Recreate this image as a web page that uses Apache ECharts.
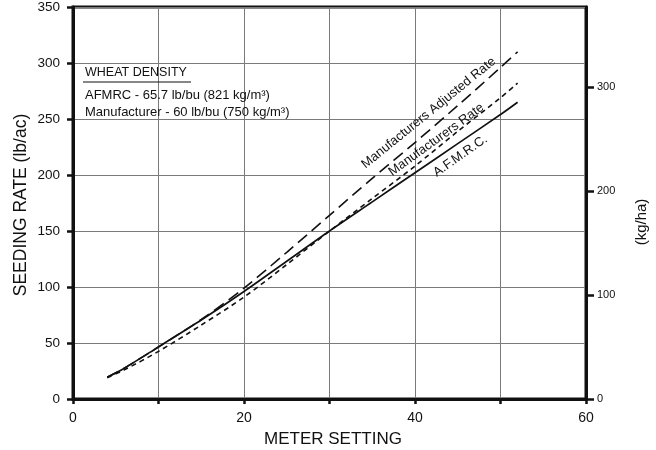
<!DOCTYPE html>
<html>
<head>
<meta charset="utf-8">
<script src="https://cdn.jsdelivr.net/npm/echarts@6/dist/echarts.min.js"></script>
<style>
html,body{margin:0;padding:0;background:#fff;}
#chart{width:656px;height:450px;}
</style>
</head>
<body>
<div id="chart"></div>
<script>
// Meter setting values (x)
const meterSettings = [4, 6, 10, 15, 20, 25, 30, 35, 40, 45, 50, 52];
// Seeding rate (lb/ac)
const afmrcRate        = [19.5, 27.5, 46.5, 70.5, 96, 123, 150, 176, 202, 228, 254, 265];
const manufacturerRate = [19, 26, 42.5, 66, 91, 120, 150, 179, 208, 239, 269, 282];
const adjustedRate     = [19.5, 27.5, 46.5, 71, 99, 131, 164, 197, 229, 262, 296, 310];

const seriesNames = ['A.F.M.R.C.', 'Manufacturers Rate', 'Manufacturers Adjusted Rate'];
const legendTitle = 'WHEAT DENSITY';
const legendLines = ['AFMRC - 65.7 lb/bu (821 kg/m³)', 'Manufacturer - 60 lb/bu (750 kg/m³)'];
const xTitle = 'METER SETTING';
const yTitle = 'SEEDING RATE (lb/ac)';
const y2Title = '(kg/ha)';
// label anchor positions in data units [meter setting, lb/ac] and rotation degrees
const labelAnchors = [[45.3, 217, 35], [42.5, 231.5, 36], [41.6, 255.4, 39]];

const FONT = '"Liberation Sans", Arial, Helvetica, sans-serif';
const INK = '#111';

function pairs(ys){ return meterSettings.map((x,i)=>[x, ys[i]]); }

const chart = echarts.init(document.getElementById('chart'));
const grid = {left:73, right:70, top:7, bottom:51, show:true, borderColor:INK, borderWidth:3, backgroundColor:'transparent'};

const option = {
  animation:false,
  backgroundColor:'#fff',
  grid: grid,
  xAxis: {
    type:'value', min:0, max:60, interval:10,
    axisLine:{show:true, lineStyle:{color:INK, width:3}},
    axisTick:{show:true, inside:false, length:5, lineStyle:{color:INK, width:2.5}},
    axisLabel:{color:INK, fontFamily:FONT, fontSize:14, margin:12,
      formatter: v => (v % 20 === 0 ? String(v) : '')},
    splitLine:{show:true, lineStyle:{color:'#7a7a7a', width:1}}
  },
  yAxis: [{
    type:'value', min:0, max:350, interval:50,
    axisLine:{show:true, lineStyle:{color:INK, width:3}},
    axisTick:{show:true, length:6, lineStyle:{color:INK, width:2.5}},
    axisLabel:{color:INK, fontFamily:FONT, fontSize:13.5, margin:13},
    splitLine:{show:true, lineStyle:{color:'#7a7a7a', width:1}}
  },{
    type:'value', min:0, max:377, interval:100, position:'right',
    axisLine:{show:true, lineStyle:{color:INK, width:3}},
    axisTick:{show:true, length:8, lineStyle:{color:INK, width:2.5}},
    axisLabel:{color:INK, fontFamily:FONT, fontSize:11, margin:11, showMaxLabel:false},
    splitLine:{show:false}
  }],
  series: [
    {name:seriesNames[0], type:'line', data:pairs(afmrcRate), smooth:0.3, symbol:'none',
     lineStyle:{color:INK, width:1.7, type:'solid'}},
    {name:seriesNames[1], type:'line', data:pairs(manufacturerRate), smooth:0.3, symbol:'none',
     lineStyle:{color:INK, width:1.6, type:[5,4]}},
    {name:seriesNames[2], type:'line', data:pairs(adjustedRate), smooth:0.3, symbol:'none',
     lineStyle:{color:INK, width:1.6, type:[12,6]}}
  ]
};
chart.setOption(option);

// build text graphics
const graphics = [
  {type:'text', x:333, y:439, style:{text:xTitle, font:'17px '+FONT, fill:INK, align:'center', verticalAlign:'middle'}},
  {type:'text', x:21, y:205, rotation:Math.PI/2, style:{text:yTitle, font:'17.5px '+FONT, fill:INK, align:'center', verticalAlign:'middle'}},
  {type:'text', x:642, y:222, rotation:Math.PI/2, style:{text:y2Title, font:'15px '+FONT, fill:INK, align:'center', verticalAlign:'middle'}},
  {type:'text', x:85, y:73, style:{text:legendTitle, font:'12.5px '+FONT, fill:INK, verticalAlign:'middle'}},
  {type:'line', shape:{x1:83, y1:82, x2:191, y2:82}, style:{stroke:INK, lineWidth:1.2}},
  {type:'text', x:85, y:95, style:{text:legendLines[0], font:'13px '+FONT, fill:INK, verticalAlign:'middle'}},
  {type:'text', x:85, y:112, style:{text:legendLines[1], font:'13px '+FONT, fill:INK, verticalAlign:'middle'}}
];
labelAnchors.forEach((a, i) => {
  const p = chart.convertToPixel({xAxisIndex:0, yAxisIndex:0}, [a[0], a[1]]);
  graphics.push({type:'text', x:p[0], y:p[1], rotation:a[2]*Math.PI/180,
    style:{text:seriesNames[i], font:'13px '+FONT, fill:INK, align:'center', verticalAlign:'middle'}});
});
chart.setOption({graphic: graphics});
</script>
</body>
</html>
